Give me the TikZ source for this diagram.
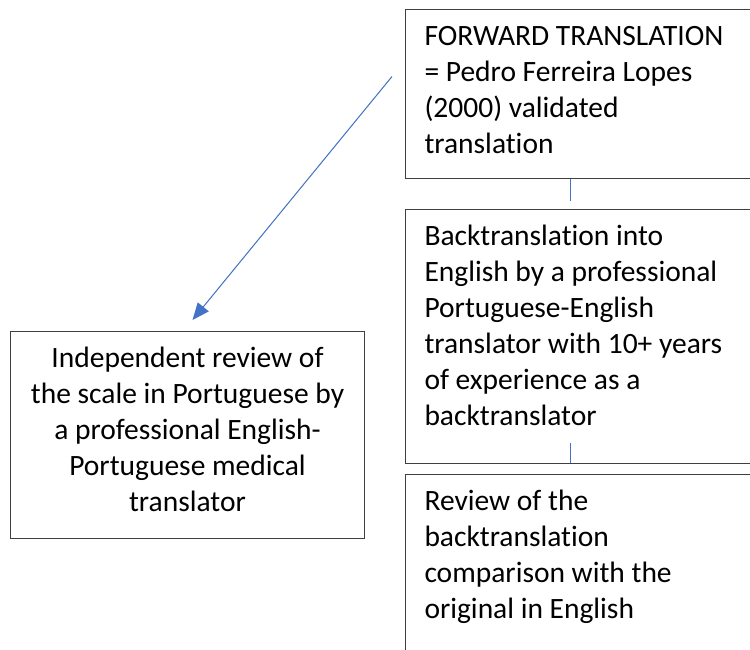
\documentclass[tikz,border=0pt]{standalone}
\usepackage{fontspec}
\setmainfont{Carlito}[Ligatures=NoCommon]
\usepackage{tikz}
\usetikzlibrary{arrows.meta, positioning}

\definecolor{linkblue}{HTML}{4472C4}
\newcommand{\boxtext}[3]{\begin{minipage}[t][#1][t]{#2}\rule{0pt}{36pt}#3\end{minipage}}

\begin{document}
\begin{tikzpicture}[
  x=1pt, y=-1pt,
  box/.style={draw=black!75, line width=1pt, inner ysep=0pt, inner xsep=19pt, font=\fontsize{29.5}{35.9}\selectfont},
  link/.style={draw=linkblue, line width=1pt},
  arrow/.style={draw=linkblue, line width=1pt, -{Triangle[length=17pt,width=14pt]}, fill=linkblue}
]
\clip (0,0) rectangle (750,649);
\node[box, anchor=north west] (fwd)    at (405,9)   {\boxtext{169pt}{327pt}{FORWARD TRANSLATION\\= Pedro Ferreira Lopes\\(2000) validated\\translation}};
\node[box, anchor=north west] (back)   at (405,209) {\boxtext{254pt}{327pt}{Backtranslation into\\English by a professional\\Portuguese-English\\translator with 10+ years\\of experience as a\\backtranslator}};
\node[box, anchor=north west] (review) at (405,474) {\boxtext{210pt}{327pt}{\rule{0pt}{2pt}Review of the\\backtranslation\\comparison with the\\original in English}};
\node[box, anchor=north west] (indep)  at (10,331)  {\boxtext{207pt}{316pt}{\centering Independent review of\\the scale in Portuguese by\\a professional English-\\Portuguese medical\\translator}};

% connectors
\draw[link] ([xshift=165pt]fwd.south west) -- ([xshift=165pt,yshift=8pt]back.north west);
\draw[link] ([xshift=165pt,yshift=21pt]back.south west) -- ([xshift=165pt,yshift=11pt]review.north west);
\draw[arrow] ([xshift=-13pt,yshift=17.5pt]fwd.west) -- ([xshift=5pt,yshift=11pt]indep.north);
\end{tikzpicture}
\end{document}
